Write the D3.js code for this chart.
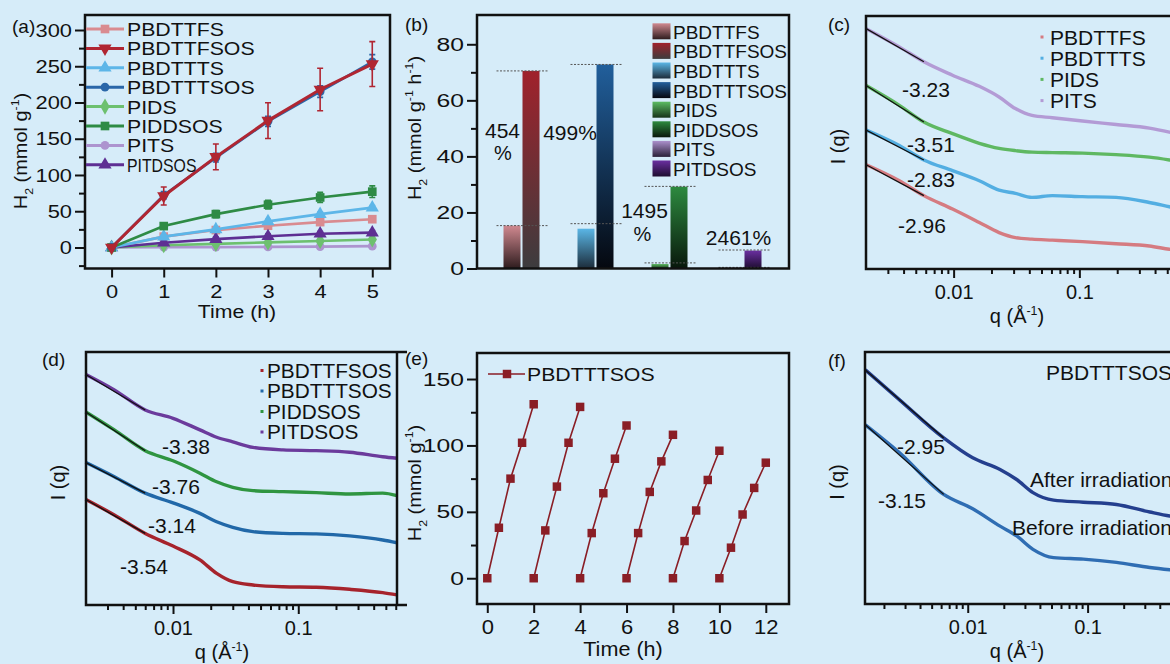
<!DOCTYPE html>
<html><head><meta charset="utf-8">
<script src="https://cdn.jsdelivr.net/npm/d3@7"></script>
<style>html,body{margin:0;padding:0;background:#d6ecf9;overflow:hidden}svg{display:block;font-family:'Liberation Sans',Arial,Helvetica,sans-serif}</style>
</head><body><svg id="fig" width="1170" height="664"></svg>
<script>
// ---------------- DATA ----------------
// (a) cumulative H2 evolution
const timeA = [0, 1, 2, 3, 4, 5];
const seriesA = ["PBDTTFS","PBDTTFSOS","PBDTTTS","PBDTTTSOS","PIDS","PIDDSOS","PITS","PITDSOS"];
const h2_PBDTTFS   = [0, 15, 24, 30, 35, 39];
const h2_PBDTTFSOS = [0, 71, 125, 175, 218, 253];
const h2_PBDTTTS   = [0, 15, 25, 36, 46, 55];
const h2_PBDTTTSOS = [0, 72, 124, 174, 215, 256];
const h2_PIDS      = [0, 3, 5, 7, 9, 11];
const h2_PIDDSOS   = [0, 29.5, 46, 59, 69, 77];
const h2_PITS      = [0, 0.3, 0.5, 0.8, 1.2, 1.8];
const h2_PITDSOS   = [0, 6.5, 11.5, 15.5, 19, 20.5];
const err_PBDTTFS   = [0, 2, 2, 2, 2, 2];
const err_PBDTTFSOS = [0, 12.4, 17.7, 24.6, 29.3, 31];
const err_PBDTTTS   = [0, 2, 2, 3, 3, 3];
const err_PBDTTTSOS = [0, 5, 6, 7, 8, 10];
const err_PIDS      = [0, 1, 1, 1, 1, 1];
const err_PIDDSOS   = [0, 3, 5, 6, 7, 8];
const err_PITS      = [0, 1, 1, 1, 1, 1];
const err_PITDSOS   = [0, 2, 3, 3, 3, 3];
const yTicksA = [0, 50, 100, 150, 200, 250, 300];
const xTicksA = [0, 1, 2, 3, 4, 5];

// (b) H2 evolution rates
const groupsB = ["PBDTT-FS", "PBDTT-TS", "PI-DS", "PI-TS"];
const pristineB = ["PBDTTFS", "PBDTTTS", "PIDS", "PITS"];
const sosB = ["PBDTTFSOS", "PBDTTTSOS", "PIDDSOS", "PITDSOS"];
const ratePristine = [15.3, 14.2, 1.6, 0.3];
const rateSOS = [70.5, 72.8, 29.2, 6.4];
const refLowB = [15.3, 16.0, 2.0, 0.4];
const refHighB = [70.5, 72.8, 29.3, 6.6];
const yTicksB = [0, 20, 40, 60, 80];

// (c) SAXS pristine polymers
const seriesC = ["PBDTTFS", "PBDTTTS", "PIDS", "PITS"];
const qC = [0.002, 0.0037, 0.0058, 0.0098, 0.016, 0.023, 0.031, 0.042, 0.061, 0.106, 0.196, 0.36, 0.52, 0.62];
const iC_PITS    = [95.1, 87.8, 81.9, 76.6, 72.2, 68.0, 63.4, 60.7, 59.8, 58.5, 57.1, 55.7, 54.1, 53.2];
const iC_PIDS    = [72.6, 64.7, 58.1, 53.5, 49.7, 47.7, 46.8, 46.2, 46.0, 45.8, 45.2, 44.2, 43.1, 42.5];
const iC_PBDTTTS = [55.0, 48.8, 43.1, 38.9, 34.9, 31.2, 29.9, 28.3, 29.0, 28.6, 28.3, 26.3, 24.6, 23.8];
const iC_PBDTTFS = [41.3, 34.9, 29.0, 23.7, 18.4, 14.4, 12.4, 11.8, 11.4, 10.8, 10.0, 9.1, 7.8, 7.3];
const slopeC = ["-2.96", "-2.83", "-3.51", "-3.23"];

// (d) SAXS SOS polymers
const seriesD = ["PBDTTFSOS", "PBDTTTSOS", "PIDDSOS", "PITDSOS"];
const qD = [0.002, 0.0034, 0.006, 0.01, 0.0164, 0.0223, 0.030, 0.0435, 0.0755, 0.139, 0.257, 0.472, 0.614];
const iD_PITDSOS   = [91.2, 85.0, 77.1, 73.8, 69.2, 66.3, 64.5, 62.3, 61.3, 61.0, 60.4, 58.6, 58.0];
const iD_PIDDSOS   = [76.4, 69.2, 61.0, 57.0, 52.1, 48.7, 46.5, 45.2, 44.8, 44.4, 43.9, 44.2, 43.2];
const iD_PBDTTTSOS = [56.4, 50.7, 44.2, 40.4, 36.2, 32.9, 30.7, 29.0, 28.3, 28.1, 27.3, 25.7, 24.6];
const iD_PBDTTFSOS = [41.8, 35.6, 28.3, 23.3, 17.8, 12.5, 9.2, 7.9, 7.2, 7.0, 6.2, 4.9, 4.0];
const slopeD = ["-3.54", "-3.14", "-3.76", "-3.38"];

// (e) cycling test PBDTTTSOS
const timeE = [0,0.5,1,1.5,2, 2,2.5,3,3.5,4, 4,4.5,5,5.5,6, 6,6.5,7,7.5,8, 8,8.5,9,9.5,10, 10,10.5,11,11.5,12];
const h2E   = [0,38,75,102,131, 0,36,69,102,129, 0,34,64,90,115, 0,34,65,88,108, 0,28,51,74,96, 0,23,48,68,87];
const cycleE = [1,1,1,1,1, 2,2,2,2,2, 3,3,3,3,3, 4,4,4,4,4, 5,5,5,5,5, 6,6,6,6,6];
const xTicksE = [0, 2, 4, 6, 8, 10, 12];
const yTicksE = [0, 50, 100, 150];

// (f) SAXS before/after irradiation
const qF = [0.0014, 0.0027, 0.0063, 0.011, 0.0186, 0.0256, 0.035, 0.052, 0.092, 0.174, 0.33, 0.485, 0.59];
const iF_after  = [92.9, 81.0, 65.9, 58.0, 53.4, 49.4, 44.2, 41.2, 40.4, 39.5, 36.5, 34.9, 34.3];
const iF_before = [71.1, 60.0, 43.5, 37.8, 30.9, 27.0, 21.7, 18.4, 17.8, 16.5, 14.5, 13.6, 13.2];
const slopeF = ["-2.95", "-3.15"];
const qTickVals = [0.01, 0.1];
const qTickLabels = ["0.01", "0.1"];

// ---------------- STYLE ----------------
const colA = {PBDTTFS:"#d98b90", PBDTTFSOS:"#b02632", PBDTTTS:"#5db6e8", PBDTTTSOS:"#2a66a8",
              PIDS:"#6dc06f", PIDDSOS:"#2e8b45", PITS:"#ad94cf", PITDSOS:"#5e2f93"};
const gradB = {PBDTTFS:["#d08990","#2e1c1e"], PBDTTFSOS:["#a0222c","#3c3c3e"], PBDTTTS:["#5ab6e6","#1c2c3a"],
               PBDTTTSOS:["#215f9c","#05080f"], PIDS:["#5cbb62","#16341a"], PIDDSOS:["#2d8a3f","#08170b"],
               PITS:["#ab90cc","#2a2038"], PITDSOS:["#6a2fa0","#1e0d30"]};
const colC = {PBDTTFS:"#d57b81", PBDTTTS:"#53aee2", PIDS:"#5fb862", PITS:"#b39bd5"};
const colD = {PBDTTFSOS:"#a6232c", PBDTTTSOS:"#2168a8", PIDDSOS:"#2f9541", PITDSOS:"#6b3b9c"};
const colE = "#8a1e26";
const colF = {after:"#243f8e", before:"#2f6db3"};
const INK = "#111";

const dataA = {PBDTTFS:h2_PBDTTFS, PBDTTFSOS:h2_PBDTTFSOS, PBDTTTS:h2_PBDTTTS, PBDTTTSOS:h2_PBDTTTSOS,
               PIDS:h2_PIDS, PIDDSOS:h2_PIDDSOS, PITS:h2_PITS, PITDSOS:h2_PITDSOS};
const errA = {PBDTTFS:err_PBDTTFS, PBDTTFSOS:err_PBDTTFSOS, PBDTTTS:err_PBDTTTS, PBDTTTSOS:err_PBDTTTSOS,
              PIDS:err_PIDS, PIDDSOS:err_PIDDSOS, PITS:err_PITS, PITDSOS:err_PITDSOS};
const symA = {PBDTTFS:"square", PBDTTFSOS:"down", PBDTTTS:"tri", PBDTTTSOS:"circle",
              PIDS:"diamond", PIDDSOS:"square", PITS:"circle", PITDSOS:"tri"};

const svg = d3.select("#fig");
svg.append("rect").attr("width", 1170).attr("height", 664).attr("fill", "#d6ecf9");
const defs = svg.append("defs");

// ---------------- HELPERS ----------------
function rich(g, x, y, parts, o = {}) {
  const fs = o.fs || 20, sx = o.sx || 1;
  let tr = `translate(${x},${y})`;
  if (o.rot) tr += ` rotate(${o.rot})`;
  if (sx !== 1) tr += ` scale(${sx},1)`;
  const t = g.append("text").attr("transform", tr).attr("font-size", fs)
    .attr("text-anchor", o.anchor || "start").attr("fill", o.fill || INK);
  if (o.len) t.attr("textLength", o.len).attr("lengthAdjust", "spacingAndGlyphs");
  let shift = 0;
  (Array.isArray(parts) ? parts : [parts]).forEach(p => {
    const [s, k] = Array.isArray(p) ? p : [p, ""];
    const target = k === "sub" ? fs * 0.32 : k === "sup" ? -fs * 0.42 : 0;
    const sp = t.append("tspan").text(s).attr("dy", target - shift);
    if (k) sp.attr("font-size", fs * 0.62);
    shift = target;
  });
  return t;
}
function styleAxis(ax, o) {
  ax.select(".domain").remove();
  ax.selectAll("line").attr("stroke", INK).attr("stroke-width", 2);
  ax.selectAll("text").attr("font-size", o.fs || 20).attr("font-family", "'Liberation Sans',Arial,sans-serif").attr("fill", INK);
}
function leftAxis(g, scale, x, majors, minors, o = {}) {
  const sx = o.sx || 1, L = o.major || 10, pad = 3;
  const ax = g.append("g").attr("transform", `translate(${x},0)`)
    .call(d3.axisLeft(scale).tickValues(majors).tickSize(L).tickPadding(pad).tickFormat(d3.format("d")));
  styleAxis(ax, o);
  ax.selectAll("text").attr("x", -(L + pad) / sx).attr("transform", `scale(${sx},1)`);
  if (minors && minors.length) {
    const mx = g.append("g").attr("transform", `translate(${x},0)`)
      .call(d3.axisLeft(scale).tickValues(minors).tickSize(o.minor || 6).tickFormat(""));
    styleAxis(mx, o);
  }
}
function bottomAxis(g, scale, y, majors, fmt, minors, o = {}) {
  const sx = o.sx || 1, L = o.major || 9;
  const ax = g.append("g").attr("transform", `translate(0,${y})`)
    .call(d3.axisBottom(scale).tickValues(majors).tickSize(L).tickPadding(o.pad || 6).tickFormat(fmt));
  styleAxis(ax, o);
  if (sx !== 1) ax.selectAll("text").attr("transform", `scale(${sx},1)`).attr("x", 0);
  if (minors && minors.length) {
    const mx = g.append("g").attr("transform", `translate(0,${y})`)
      .call(d3.axisBottom(scale).tickValues(minors).tickSize(o.minor || 5).tickFormat(""));
    styleAxis(mx, o);
  }
}
function frame(g, x0, y0, x1, y1) {
  g.append("rect").attr("x", x0).attr("y", y0).attr("width", x1 - x0).attr("height", y1 - y0)
    .attr("fill", "none").attr("stroke", INK).attr("stroke-width", 2.5);
}
function symbolPath(kind, size) {
  const t = kind === "square" ? d3.symbolSquare : kind === "circle" ? d3.symbolCircle :
            kind === "diamond" ? d3.symbolDiamond : d3.symbolTriangle;
  return d3.symbol().type(t).size(size)();
}
function marker(g, kind, x, y, color, size) {
  g.append("path").attr("d", symbolPath(kind, size))
    .attr("transform", `translate(${x},${y})${kind === "down" ? " rotate(180)" : ""}`)
    .attr("fill", color);
}
const yLabelH2 = [["H"], ["2", "sub"], [" (mmol g"], ["-1", "sup"], [")"]];
const yLabelRate = [["H"], ["2", "sub"], [" (mmol g"], ["-1", "sup"], [" h"], ["-1", "sup"], [")"]];
const qLabel = [["q (Å"], ["-1", "sup"], [")"]];

// ---------------- PANEL (a) ----------------
{
  const g = svg.append("g");
  const x = d3.scaleLinear().domain([-0.51, 5.34]).range([85, 390]);
  const y = d3.scaleLinear().domain([-29, 320.7]).range([268.5, 15]);
  const order = ["PITS", "PIDS", "PBDTTFS", "PITDSOS", "PBDTTTS", "PIDDSOS", "PBDTTTSOS", "PBDTTFSOS"];
  order.forEach(s => {
    const vals = dataA[s], errs = errA[s], c = colA[s];
    const pts = timeA.map((t, i) => [t, vals[i], errs[i]]);
    g.append("path").attr("d", d3.line().x(d => x(d[0])).y(d => y(d[1]))(pts))
      .attr("fill", "none").attr("stroke", c).attr("stroke-width", s === "PBDTTFSOS" ? 3 : 2.6);
    pts.forEach(d => {
      if (d[2] > 0) {
        const xx = x(d[0]), ya = y(d[1] + d[2]), yb = y(d[1] - d[2]);
        g.append("path").attr("d", `M${xx},${ya}V${yb}M${xx - 3},${ya}H${xx + 3}M${xx - 3},${yb}H${xx + 3}`)
          .attr("stroke", c).attr("stroke-width", 1.6).attr("fill", "none");
      }
      marker(g, symA[s], x(d[0]), y(d[1]), c, symA[s] === "circle" ? 60 : 75);
    });
  });
  frame(g, 85, 15, 390, 268.5);
  leftAxis(g, y, 85, yTicksA, [-25, 25, 75, 125, 175, 225, 275], {fs: 19, sx: 1.15});
  bottomAxis(g, x, 268.5, xTicksA, d3.format("d"), null, {fs: 19, sx: 1.15, pad: 7});
  seriesA.forEach((s, i) => {
    const cy = 29 + i * 19.4;
    g.append("line").attr("x1", 86).attr("x2", 124).attr("y1", cy).attr("y2", cy)
      .attr("stroke", colA[s]).attr("stroke-width", 3);
    marker(g, symA[s], 105, cy, colA[s], symA[s] === "circle" ? 60 : 75);
    rich(g, 127, cy + 7, s, {fs: 19, sx: 1.12, len: s === "PITDSOS" ? 62 : null});
  });
  rich(g, 237, 318, "Time (h)", {fs: 19, sx: 1.12, anchor: "middle"});
  rich(g, 27, 151, yLabelH2, {fs: 19, rot: -90, anchor: "middle", sx: 1.05});
  rich(g, 12, 33, "(a)", {fs: 19});
}

// ---------------- PANEL (b) ----------------
{
  const g = svg.append("g");
  const y = d3.scaleLinear().domain([0, 90.45]).range([268.5, 15]);
  const xg = d3.scaleBand().domain(groupsB).range([484.5, 780.5]);
  const xi = d3.scaleBand().domain([0, 1]).range([19, 55]).paddingInner(2 / 19);
  Object.keys(gradB).forEach(k => {
    const lg = defs.append("linearGradient").attr("id", "g_" + k).attr("x1", 0).attr("y1", 0).attr("x2", 0).attr("y2", 1);
    lg.append("stop").attr("offset", "0").attr("stop-color", gradB[k][0]);
    lg.append("stop").attr("offset", "1").attr("stop-color", gradB[k][1]);
  });
  groupsB.forEach((grp, i) => {
    [[pristineB[i], ratePristine[i]], [sosB[i], rateSOS[i]]].forEach(([name, v], j) => {
      g.append("rect").attr("x", xg(grp) + xi(j)).attr("width", xi.bandwidth())
        .attr("y", y(v)).attr("height", y(0) - y(v)).attr("fill", `url(#g_${name})`);
    });
    const cx = xg(grp) + xg.bandwidth() / 2 + 0.5;
    [refLowB[i], refHighB[i]].forEach(v => {
      g.append("line").attr("x1", cx - 25.5).attr("x2", cx + 25.5).attr("y1", y(v)).attr("y2", y(v))
        .attr("stroke", "#555").attr("stroke-width", 1).attr("stroke-dasharray", "2,1.5");
    });
  });
  frame(g, 477, 15, 789, 268.5);
  leftAxis(g, y, 477, yTicksB, [10, 30, 50, 70], {fs: 19, sx: 1.3});
  const gc = d => xg(groupsB[d]) + xg.bandwidth() / 2;
  rich(g, gc(0) - 19, 138, "454", {fs: 21, anchor: "middle"});
  rich(g, gc(0) - 18.5, 160, "%", {fs: 20, anchor: "middle"});
  rich(g, gc(1) - 25.5, 140, "499%", {fs: 21, anchor: "middle"});
  rich(g, gc(2) - 25, 218, "1495", {fs: 21, anchor: "middle"});
  rich(g, gc(2) - 27, 241, "%", {fs: 20, anchor: "middle"});
  rich(g, gc(3) - 5, 245, "2461%", {fs: 21, anchor: "middle"});
  seriesA.forEach((s, i) => {
    const top = 23.3 + i * 19.6;
    g.append("rect").attr("x", 652.5).attr("y", top).attr("width", 18).attr("height", 16).attr("fill", `url(#g_${s})`);
    rich(g, 673, top + 15.5, s, {fs: 19});
  });
  rich(g, 421, 128, yLabelRate, {fs: 19, rot: -90, anchor: "middle", sx: 1.05});
  rich(g, 405, 31, "(b)", {fs: 19});
}

// ---------------- SAXS panels ----------------
function saxs(o) {
  const g = svg.append("g");
  const x = d3.scaleLog().domain(o.qDomain).range([o.left, o.right]);
  const y = d3.scaleLinear().domain([0, 100]).range([o.bottom, o.top]);
  o.series.forEach(s => {
    const pts = o.q.map((q, i) => [q, s.vals[i]]);
    g.append("path").attr("d", d3.line().x(d => x(d[0])).y(d => y(d[1])).curve(d3.curveMonotoneX)(pts))
      .attr("fill", "none").attr("stroke", s.color).attr("stroke-width", 3.4).attr("stroke-linejoin", "round");
    g.append("path").attr("d", d3.line().x(d => x(d[0])).y(d => y(d[1]))([pts[0], pts[2]]))
      .attr("fill", "none").attr("stroke", "#111").attr("stroke-width", 1.3);
  });
  g.append("path").attr("d", `M${o.right + 10},${o.top}H${o.left}V${o.bottom}H${o.right + 10}`)
    .attr("fill", "none").attr("stroke", INK).attr("stroke-width", 2.5);
  if (o.closed) g.append("line").attr("x1", o.right).attr("x2", o.right).attr("y1", o.top).attr("y2", o.bottom)
    .attr("stroke", INK).attr("stroke-width", 2.5);
  const minors = x.ticks().filter(v => !qTickVals.some(m => Math.abs(m - v) < 1e-9));
  bottomAxis(g, x, o.bottom, qTickVals, (d, i) => qTickLabels[i], minors, {fs: 20, major: 9, minor: 5, pad: 7});
  rich(g, o.left + o.qlx, o.bottom + 54, qLabel, {fs: 20, anchor: "middle"});
  rich(g, o.left - 21, (o.top + o.bottom) / 2 + 4, "I (q)", {fs: 20, rot: -90, anchor: "middle"});
  return {g, x, y};
}

// (c)
{
  const vals = {PBDTTFS: iC_PBDTTFS, PBDTTTS: iC_PBDTTTS, PIDS: iC_PIDS, PITS: iC_PITS};
  const {g} = saxs({qDomain: [0.00201, 0.62], left: 866, right: 1179, top: 16, bottom: 269, q: qC, qlx: 151,
    series: ["PITS", "PIDS", "PBDTTTS", "PBDTTFS"].map(s => ({vals: vals[s], color: colC[s]}))});
  const pos = [[898, 233], [907, 187], [907, 152], [902, 97]];
  slopeC.forEach((t, i) => rich(g, pos[i][0], pos[i][1], t, {fs: 21}));
  seriesC.forEach((s, i) => {
    const cy = 37 + i * 21.2;
    g.append("rect").attr("x", 1040.5).attr("y", cy - 1.5).attr("width", 3).attr("height", 3).attr("fill", colC[s]);
    rich(g, 1050, cy + 7.5, s, {fs: 21});
  });
  rich(g, 828, 31, "(c)", {fs: 19});
}
// (d)
{
  const vals = {PBDTTFSOS: iD_PBDTTFSOS, PBDTTTSOS: iD_PBDTTTSOS, PIDDSOS: iD_PIDDSOS, PITDSOS: iD_PITDSOS};
  const {g} = saxs({qDomain: [0.00202, 0.614], left: 86, right: 397, top: 352, bottom: 605, q: qD, closed: true, qlx: 136,
    series: ["PITDSOS", "PIDDSOS", "PBDTTTSOS", "PBDTTFSOS"].map(s => ({vals: vals[s], color: colD[s]}))});
  const pos = [[120, 574], [148, 533], [152, 494], [162, 454]];
  slopeD.forEach((t, i) => rich(g, pos[i][0], pos[i][1], t, {fs: 21}));
  seriesD.forEach((s, i) => {
    const cy = 370.5 + i * 20.5;
    g.append("rect").attr("x", 260.5).attr("y", cy - 1.5).attr("width", 3).attr("height", 3).attr("fill", colD[s]);
    rich(g, 267, cy + 7, s, {fs: 20, sx: 1.04});
  });
  rich(g, 42, 366, "(d)", {fs: 19});
}
// (f)
{
  const {g} = saxs({qDomain: [0.00139, 0.59], left: 865, right: 1180, top: 352, bottom: 604, q: qF, qlx: 152,
    series: [{vals: iF_before, color: colF.before}, {vals: iF_after, color: colF.after}]});
  rich(g, 897, 454, slopeF[0], {fs: 21});
  rich(g, 878, 508, slopeF[1], {fs: 21});
  rich(g, 1046, 380, "PBDTTTSOS", {fs: 21});
  rich(g, 1030, 487, "After irradiation", {fs: 21});
  rich(g, 1012, 535, "Before irradiation", {fs: 21});
  rich(g, 828, 367, "(f)", {fs: 19});
}

// ---------------- PANEL (e) ----------------
{
  const g = svg.append("g");
  const x = d3.scaleLinear().domain([-0.443, 13.0]).range([477, 789]);
  const y = d3.scaleLinear().domain([-19.4, 169.6]).range([604, 353]);
  const pts = timeE.map((t, i) => ({t, v: h2E[i], c: cycleE[i]}));
  d3.groups(pts, d => d.c).forEach(([, arr]) => {
    g.append("path").attr("d", d3.line().x(d => x(d.t)).y(d => y(d.v))(arr))
      .attr("fill", "none").attr("stroke", colE).attr("stroke-width", 1.6);
  });
  pts.forEach(d => marker(g, "square", x(d.t), y(d.v), colE, 72));
  frame(g, 477, 353, 789, 604);
  leftAxis(g, y, 477, yTicksE, [25, 75, 125], {fs: 19, sx: 1.3});
  bottomAxis(g, x, 604, xTicksE, d3.format("d"), null, {fs: 20, sx: 1.1, pad: 7});
  g.append("line").attr("x1", 488).attr("x2", 525).attr("y1", 374).attr("y2", 374).attr("stroke", colE).attr("stroke-width", 1.6);
  marker(g, "square", 507, 374, colE, 72);
  rich(g, 527, 381, "PBDTTTSOS", {fs: 19, sx: 1.12});
  rich(g, 623, 656, "Time (h)", {fs: 20, sx: 1.08, anchor: "middle"});
  rich(g, 421, 483, yLabelH2, {fs: 19, rot: -90, anchor: "middle", sx: 1.05});
  rich(g, 405, 365, "(e)", {fs: 19});
}
</script></body></html>
